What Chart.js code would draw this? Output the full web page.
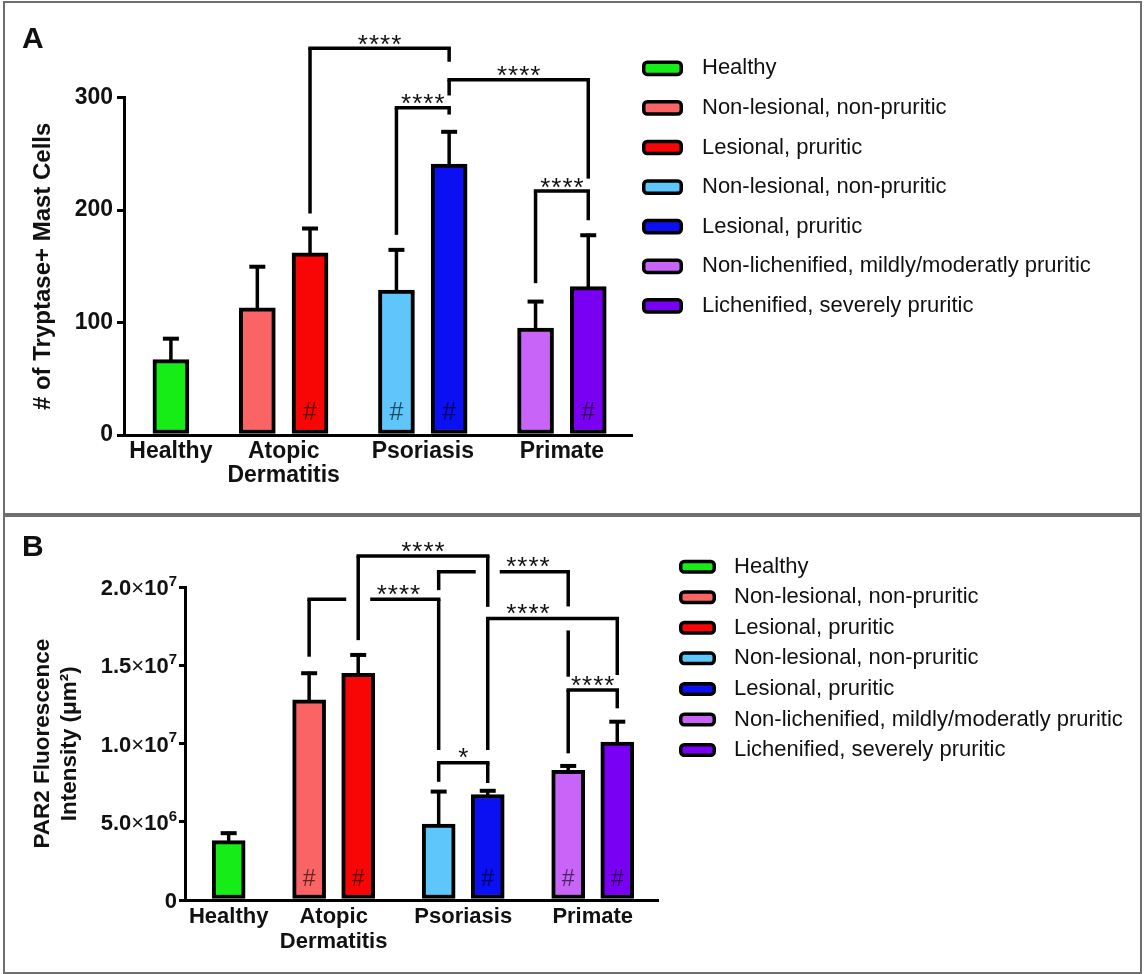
<!DOCTYPE html>
<html lang="en">
<head>
<meta charset="utf-8">
<title>Tryptase+ mast cells and PAR2 fluorescence intensity</title>
<script src="https://cdn.jsdelivr.net/npm/chart.js@4.4.1/dist/chart.umd.min.js"></script>
<style>
  html, body { margin: 0; padding: 0; background: #fff; }
  body { width: 1146px; height: 974px; position: relative; overflow: hidden; }
  .panel { position: absolute; left: 3px; width: 1139px; box-sizing: border-box; border: 2px solid #6f6f6f; background: #fff; }
  #panelA { top: 1px; height: 514px; }
  #panelB { top: 515px; height: 459px; }
  .panel canvas { position: absolute; left: 0; top: 0; }
  .tag { position: absolute; left: 17px; font: bold 30px/30px "Liberation Sans", Arial, sans-serif; color: #111; }
</style>
</head>
<body>
<div class="panel" id="panelA">
  <canvas id="chartA" width="1135" height="510"></canvas>
  <div class="tag" style="top:20px">A</div>
</div>
<div class="panel" id="panelB">
  <canvas id="chartB" width="1135" height="455"></canvas>
  <div class="tag" style="top:14px">B</div>
</div>
<script>
// ---------------- data ----------------
const categories = ['Healthy', ['Atopic', 'Dermatitis'], 'Psoriasis', 'Primate'];
const seriesLabels = [
  'Healthy',
  'Non-lesional, non-pruritic',
  'Lesional, pruritic',
  'Non-lesional, non-pruritic',
  'Lesional, pruritic',
  'Non-lichenified, mildly/moderatly pruritic',
  'Lichenified, severely pruritic'
];
// category each series belongs to
const seriesGroup = [0, 1, 1, 2, 2, 3, 3];

// Panel A: # of tryptase+ mast cells (mean and SEM)
const tryptaseMean = [67, 113, 162, 129, 241, 95, 132];
const tryptaseSEM = [20, 38, 23, 37, 30, 25, 47];
const tryptaseTicks = [0, 100, 200, 300];
const tryptaseHash = [false, false, true, true, true, false, true];
// [series a, series b, bracket level, foot over a, foot over b, significance]
const tryptaseComparisons = [
  [2, 4, 344, 197, 332, '****'],
  [3, 4, 291, 178, 285, '****'],
  [4, 6, 316, 302, 228, '****'],
  [5, 6, 217, 135, 191, '****']
];

// Panel B: PAR2 fluorescence intensity (mean and SEM)
const par2Mean = [3.8e6, 12.8e6, 14.5e6, 4.85e6, 6.75e6, 8.3e6, 10.1e6];
const par2SEM = [0.57e6, 1.8e6, 1.27e6, 2.18e6, 0.33e6, 0.37e6, 1.4e6];
const par2Ticks = [0, 5e6, 1e7, 1.5e7, 2e7];
const par2Hash = [false, true, true, false, true, true, true];
const par2Comparisons = [
  [1, 3, 19.23e6, 15.56e6, 9.59e6, '****'],
  [3, 5, 20.99e6, 19.82e6, 14.28e6, '****'],
  [2, 4, 22.0e6, 16.62e6, 18.75e6, '****'],
  [4, 6, 18.01e6, 9.59e6, 14.39e6, '****'],
  [3, 4, 8.78e6, 7.56e6, 7.48e6, '*'],
  [5, 6, 13.43e6, 9.38e6, 12.26e6, '****']
];

// ---------------- styling ----------------
const seriesColors = ['#16ec16', '#fa6464', '#f80606', '#5ec6fa', '#0a10f2', '#c864f7', '#7a00f4'];
const FONT = '"Liberation Sans", Arial, Helvetica, sans-serif';
const INK = '#111';

// splits a tick value into mantissa text and power of ten, e.g. 1.5e7 -> ['1.5', '7']
function sciParts(v) {
  const e = Math.floor(Math.log10(v) + 1e-9);
  return [(v / Math.pow(10, e)).toFixed(1), String(e)];
}

// bar centres along the x axis: one unit per bar, a gap between categories
function slotPositions(groups, gap) {
  const pos = [];
  let cursor = 0;
  groups.forEach((g, i) => {
    if (i > 0 && g !== groups[i - 1]) cursor += gap;
    pos.push(cursor);
    cursor += 1;
  });
  return pos;
}

function roundedRect(ctx, x, y, w, h, r) {
  ctx.beginPath();
  ctx.moveTo(x + r, y);
  ctx.lineTo(x + w - r, y);
  ctx.arcTo(x + w, y, x + w, y + r, r);
  ctx.lineTo(x + w, y + h - r);
  ctx.arcTo(x + w, y + h, x + w - r, y + h, r);
  ctx.lineTo(x + r, y + h);
  ctx.arcTo(x, y + h, x, y + h - r, r);
  ctx.lineTo(x, y + r);
  ctx.arcTo(x, y, x + r, y, r);
  ctx.closePath();
}

// significance brackets; where two brackets cross, the earlier one steps aside
function drawComparisons(chart, spec) {
  const ctx = chart.ctx, ys = chart.scales.y;
  const barX = i => chart.getDatasetMeta(i).data[0].x;
  const items = spec.comparisons.map(([a, b, level, footA, footB, text]) => {
    const xa = barX(a), xb = barX(b), y = ys.getPixelForValue(level);
    return {
      text, cross: [],
      segs: [
        { horiz: true, at: y, from: xa, to: xb, gaps: [] },
        { horiz: false, at: xa, from: y, to: ys.getPixelForValue(footA), gaps: [] },
        { horiz: false, at: xb, from: y, to: ys.getPixelForValue(footB), gaps: [] }
      ]
    };
  });
  const within = (v, a, b) => v > Math.min(a, b) + 1 && v < Math.max(a, b) - 1;
  items.forEach((it, k) => items.forEach((other, j) => {
    if (j === k) return;
    it.segs.forEach(s => other.segs.forEach(t => {
      if (s.horiz === t.horiz) return;
      if (!within(t.at, s.from, s.to) || !within(s.at, t.from, t.to)) return;
      if (j > k) s.gaps.push(t.at);
      if (s.horiz) it.cross.push(t.at);
    }));
  }));

  const lw = spec.bracketWidth, half = spec.bracketGap;
  ctx.save();
  ctx.strokeStyle = '#000';
  ctx.lineWidth = lw;
  ctx.lineCap = 'butt';
  items.forEach(it => {
    it.segs.forEach(s => {
      let a = Math.min(s.from, s.to), b = Math.max(s.from, s.to);
      if (s.horiz) { a -= lw / 2; b += lw / 2; }
      const pieces = [];
      let start = a;
      s.gaps.slice().sort((p, q) => p - q).forEach(g => { pieces.push([start, g - half]); start = g + half; });
      pieces.push([start, b]);
      pieces.forEach(([p, q]) => {
        if (q <= p) return;
        ctx.beginPath();
        if (s.horiz) { ctx.moveTo(p, s.at); ctx.lineTo(q, s.at); }
        else { ctx.moveTo(s.at, p); ctx.lineTo(s.at, q); }
        ctx.stroke();
      });
    });
    // label sits over the longest uninterrupted stretch of the bracket
    const h = it.segs[0];
    const stops = [h.from, h.to, ...it.cross].sort((p, q) => p - q);
    let best = [stops[0], stops[1]];
    for (let i = 1; i < stops.length; i++) {
      if (stops[i] - stops[i - 1] > best[1] - best[0]) best = [stops[i - 1], stops[i]];
    }
    ctx.fillStyle = INK;
    ctx.font = spec.starSize + 'px ' + FONT;
    ctx.letterSpacing = spec.starSpacing + 'px';
    ctx.textAlign = 'center';
    ctx.textBaseline = 'alphabetic';
    ctx.fillText(it.text, (best[0] + best[1]) / 2 + spec.starSpacing / 2, h.at + spec.starDrop);
    ctx.letterSpacing = '0px';
  });
  ctx.restore();
}

// y tick labels written as mantissa x 10 with a raised exponent
function drawSciTicks(chart, spec) {
  const ctx = chart.ctx, ys = chart.scales.y;
  const right = chart.chartArea.left - spec.tickLen - spec.tickPad;
  const bold = 'bold ' + spec.tickSize + 'px ' + FONT;
  const times = spec.tickSize + 'px ' + FONT;
  const sup = 'bold ' + Math.round(spec.tickSize * 0.68) + 'px ' + FONT;
  ctx.save();
  ctx.fillStyle = INK;
  ctx.textBaseline = 'alphabetic';
  ctx.textAlign = 'left';
  ys.ticks.forEach(t => {
    const y = ys.getPixelForValue(t.value);
    const base = y + spec.tickSize * 0.36;
    if (t.value === 0) {
      ctx.font = bold;
      ctx.textAlign = 'right';
      ctx.fillText('0', right, base);
      ctx.textAlign = 'left';
      return;
    }
    const [mant, exp] = sciParts(t.value);
    const parts = [[mant, bold, 0], ['\u00d7', times, 0], ['10', bold, 0], [exp, sup, -spec.tickSize * 0.42]];
    let width = 0;
    parts.forEach(([txt, f]) => { ctx.font = f; width += ctx.measureText(txt).width; });
    let x = right - width;
    parts.forEach(([txt, f, dy]) => {
      ctx.font = f;
      ctx.fillText(txt, x, base + dy);
      x += ctx.measureText(txt).width;
    });
  });
  ctx.restore();
}

function marksPlugin(spec) {
  return {
    id: 'panelMarks',
    afterDatasetsDraw(chart) {
      const ctx = chart.ctx, ys = chart.scales.y;
      ctx.save();
      chart.data.datasets.forEach((ds, i) => {
        const bar = chart.getDatasetMeta(i).data[0];
        const top = ys.getPixelForValue(spec.mean[i]);
        const end = ys.getPixelForValue(spec.mean[i] + spec.sem[i]);
        ctx.strokeStyle = '#000';
        ctx.lineCap = 'butt';
        ctx.lineWidth = spec.errWidth;
        ctx.beginPath();
        ctx.moveTo(bar.x, top + 1);
        ctx.lineTo(bar.x, end);
        ctx.stroke();
        ctx.lineWidth = spec.capThick;
        ctx.beginPath();
        ctx.moveTo(bar.x - spec.capWidth / 2, end + spec.capThick / 2 - 0.5);
        ctx.lineTo(bar.x + spec.capWidth / 2, end + spec.capThick / 2 - 0.5);
        ctx.stroke();
        if (spec.hash[i]) {
          ctx.fillStyle = 'rgba(0,0,0,0.62)';
          ctx.font = spec.hashSize + 'px ' + FONT;
          ctx.textAlign = 'center';
          ctx.textBaseline = 'middle';
          ctx.fillText('#', bar.x, chart.chartArea.bottom - spec.hashLift);
        }
      });
      ctx.restore();
    },
    afterDraw(chart) {
      if (spec.sciTicks) drawSciTicks(chart, spec);
      drawComparisons(chart, spec);
      // legend
      const ctx = chart.ctx, L = spec.legend;
      ctx.save();
      chart.data.datasets.forEach((ds, i) => {
        const y = L.top + i * L.step;
        roundedRect(ctx, L.boxX, y - L.boxH / 2, L.boxW, L.boxH, 3.5);
        ctx.fillStyle = ds.backgroundColor;
        ctx.fill();
        ctx.lineWidth = 3.5;
        ctx.strokeStyle = '#000';
        ctx.stroke();
        ctx.fillStyle = INK;
        ctx.font = L.size + 'px ' + FONT;
        ctx.textAlign = 'left';
        ctx.textBaseline = 'middle';
        ctx.fillText(ds.label, L.textX, y);
      });
      ctx.restore();
    }
  };
}

function makePanel(canvasId, spec) {
  const pos = slotPositions(seriesGroup, spec.gap);
  const centers = categories.map((_, g) => {
    const p = pos.filter((_, i) => seriesGroup[i] === g);
    return (p[0] + p[p.length - 1]) / 2;
  });
  const datasets = seriesLabels.map((label, i) => ({
    label,
    data: [{ x: pos[i], y: spec.mean[i] }],
    backgroundColor: seriesColors[i],
    borderColor: '#000',
    borderWidth: spec.barBorder,
    borderSkipped: false,
    barThickness: spec.barWidth,
    grouped: false
  }));
  return new Chart(document.getElementById(canvasId), {
    type: 'bar',
    data: { datasets },
    options: {
      responsive: false,
      animation: false,
      devicePixelRatio: 1,
      events: [],
      layout: { padding: { left: 0, top: spec.padTop, right: spec.padRight, bottom: 0 } },
      plugins: { legend: { display: false }, tooltip: { enabled: false } },
      scales: {
        x: {
          type: 'linear',
          min: spec.xMin,
          max: spec.xMax,
          offset: false,
          grid: { display: false, drawTicks: false },
          border: { display: true, color: '#000', width: 3 },
          afterBuildTicks: s => { s.ticks = centers.map(v => ({ value: v })); },
          afterFit: s => { s.height = spec.xHeight; },
          ticks: {
            autoSkip: false, maxRotation: 0, minRotation: 0,
            padding: spec.catPad, color: INK,
            font: { family: FONT, size: spec.catSize, weight: 'bold', lineHeight: spec.catLine },
            callback: (v, i) => categories[i]
          }
        },
        y: {
          min: 0,
          max: spec.yMax,
          afterBuildTicks: s => { s.ticks = spec.ticks.map(v => ({ value: v })); },
          afterFit: s => { s.width = spec.yWidth; },
          grid: { drawOnChartArea: false, drawTicks: true, tickLength: spec.tickLen, lineWidth: 3, color: '#000' },
          border: { display: true, color: '#000', width: 3 },
          ticks: {
            padding: spec.tickPad, color: INK,
            font: { family: FONT, size: spec.tickSize, weight: 'bold' },
            callback: v => (spec.sciTicks ? '' : String(v))
          },
          title: {
            display: true, text: spec.title, color: INK,
            font: { family: FONT, size: spec.titleSize, weight: 'bold', lineHeight: spec.titleLine },
            padding: { top: spec.titlePad, bottom: 0 }
          }
        }
      }
    },
    plugins: [marksPlugin(spec)]
  });
}

makePanel('chartA', {
  mean: tryptaseMean, sem: tryptaseSEM, ticks: tryptaseTicks, hash: tryptaseHash, comparisons: tryptaseComparisons,
  yMax: 300, sciTicks: false,
  title: '# of Tryptase+ Mast Cells', titleSize: 24, titleLine: 1.2, titlePad: 24,
  tickSize: 23, tickLen: 7, tickPad: 4,
  catSize: 23, catLine: 1.04, catPad: 5,
  gap: 0.64, xMin: -0.89, xMax: 8.75,
  padTop: 94.7, padRight: 508, yWidth: 119, xHeight: 78,
  barWidth: 36, barBorder: 4, errWidth: 3.5, capWidth: 16, capThick: 4,
  hashSize: 25, hashLift: 22,
  bracketWidth: 3.5, bracketGap: 12, starSize: 26, starSpacing: 1, starDrop: 4.5,
  legend: { boxX: 638.75, boxW: 37.5, boxH: 12.2, top: 65.3, step: 39.6, textX: 697, size: 22 }
});

makePanel('chartB', {
  mean: par2Mean, sem: par2SEM, ticks: par2Ticks, hash: par2Hash, comparisons: par2Comparisons,
  yMax: 2e7, sciTicks: true,
  title: ['PAR2 Fluorescence', 'Intensity (\u03bcm\u00b2)'], titleSize: 22.5, titleLine: 1.22, titlePad: 24,
  tickSize: 22, tickLen: 6, tickPad: 2,
  catSize: 22, catLine: 1.14, catPad: 4.5,
  gap: 0.64, xMin: -0.89, xMax: 8.75,
  padTop: 70.3, padRight: 482, yWidth: 180, xHeight: 72,
  barWidth: 33, barBorder: 4, errWidth: 3.5, capWidth: 16, capThick: 4,
  hashSize: 23, hashLift: 20,
  bracketWidth: 3.5, bracketGap: 12, starSize: 26, starSpacing: 1, starDrop: 3.5,
  legend: { boxX: 675.75, boxW: 33.5, boxH: 10.5, top: 49.7, step: 30.55, textX: 729, size: 22 }
});
</script>
</body>
</html>
